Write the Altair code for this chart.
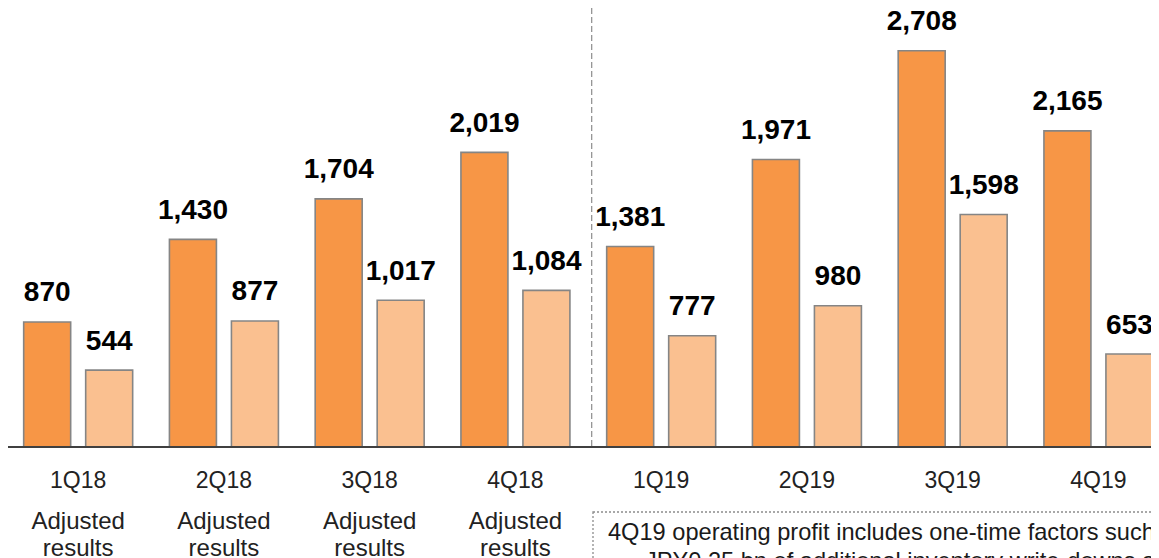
import altair as alt
import pandas as pd

quarters = ["1Q18", "2Q18", "3Q18", "4Q18", "1Q19", "2Q19", "3Q19", "4Q19"]
series_names = ["Operating profit", "Net income"]
operating_profit = [870, 1430, 1704, 2019, 1381, 1971, 2708, 2165]
net_income = [544, 877, 1017, 1084, 777, 980, 1598, 653]
adjusted_quarters = ["1Q18", "2Q18", "3Q18", "4Q18"]
adjusted_note = "Adjusted\nresults"
note_line1 = "4Q19 operating profit includes one-time factors such as"
note_line2 = "JPY0.25 bn of additional inventory write-downs and"

DARK = "#F79646"
LIGHT = "#FAC090"
FONT = "Liberation Sans"
W, H = 1143, 550
AXIS_VALUE = 23

rows = []
for q, a, b in zip(quarters, operating_profit, net_income):
    rows.append({"quarter": q, "series": series_names[0], "value": a})
    rows.append({"quarter": q, "series": series_names[1], "value": b})
df = pd.DataFrame(rows)
qdf = pd.DataFrame({"quarter": quarters})
adf = pd.DataFrame({"quarter": adjusted_quarters, "note": [adjusted_note] * len(adjusted_quarters)})
one = pd.DataFrame({"k": [0]})

x = alt.X("quarter:N", sort=quarters,
          scale=alt.Scale(range=[-2.7, 1163.3], paddingInner=0, paddingOuter=0, round=False),
          axis=None)
xo = alt.XOffset("series:N", sort=series_names,
                 scale=alt.Scale(paddingInner=0.242, paddingOuter=0.2965, round=False))
y = alt.Y("value:Q", scale=alt.Scale(domain=[0, 3000], range=[442.4, -0.4]), axis=None)
color = alt.Color("series:N", scale=alt.Scale(domain=series_names, range=[DARK, LIGHT]), legend=None)

bars = alt.Chart(df).mark_bar(stroke="#858585", strokeWidth=1.6).encode(
    x=x, xOffset=xo, y=y, y2=alt.datum(AXIS_VALUE), color=color
)

labels = alt.Chart(df).mark_text(
    dy=-20.5, fontSize=28, fontWeight="bold", font=FONT, baseline="alphabetic", color="#000000"
).encode(x=x, xOffset=xo, y=y, text=alt.Text("value:Q", format=","))

qlabels = alt.Chart(qdf).mark_text(
    fontSize=23, font=FONT, baseline="alphabetic", color="#222222"
).encode(x=x, y=alt.value(480), text="quarter:N")

adj = alt.Chart(adf).mark_text(
    fontSize=24, font=FONT, baseline="alphabetic", color="#222222", lineBreak="\n", lineHeight=27
).encode(x=x, y=alt.value(521), text="note:N")

axis_line = alt.Chart(one).mark_rule(color="#404040", strokeWidth=2).encode(
    x=alt.value(0), x2=alt.value(W), y=alt.value(439)
)

divider = alt.Chart(one).mark_rule(color="#8c8c8c", strokeWidth=1.2, strokeDash=[6, 3]).encode(
    x=alt.value(583.7), y=alt.value(0), y2=alt.value(438)
)

box = alt.Chart(one).mark_rect(fill="transparent", stroke="#8c8c8c", strokeWidth=1.3, strokeDash=[2, 2]).encode(
    x=alt.value(585), x2=alt.value(1170), y=alt.value(504), y2=alt.value(600)
)

note1 = alt.Chart(one).mark_text(
    fontSize=23.6, font=FONT, align="left", baseline="alphabetic", color="#1a1a1a"
).encode(x=alt.value(600), y=alt.value(532), text=alt.value(note_line1))

note2 = alt.Chart(one).mark_text(
    fontSize=23.6, font=FONT, align="left", baseline="alphabetic", color="#1a1a1a"
).encode(x=alt.value(637), y=alt.value(561), text=alt.value(note_line2))

chart = alt.layer(bars, axis_line, divider, labels, qlabels, adj, box, note1, note2).properties(
    width=W, height=H, autosize=alt.AutoSizeParams(type="none"), padding=0
).configure_view(strokeWidth=0)

chart.save("out.html", embed_options={"renderer": "svg", "actions": False})
